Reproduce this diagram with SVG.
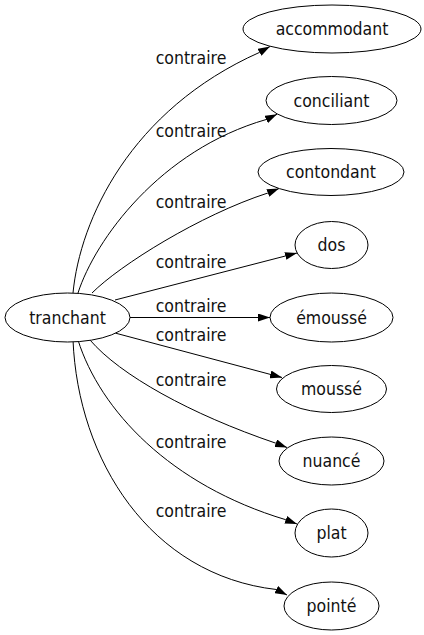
<svg xmlns="http://www.w3.org/2000/svg" width="424" height="635" viewBox="0 0 424 635">
<style>
  .node ellipse { fill: #ffffff; stroke: #000000; stroke-width: 1; }
  .node text, .lbl { font-family: "DejaVu Sans Condensed", "DejaVu Sans", sans-serif; font-stretch: condensed; font-size: 17.5px; fill: #111111; text-anchor: middle; }
  .edge { fill: none; stroke: #000000; stroke-width: 1; marker-end: url(#arr); }
</style>
<defs>
  <marker id="arr" markerUnits="userSpaceOnUse" viewBox="0 0 12 8" markerWidth="12" markerHeight="8" refX="12" refY="4" orient="auto">
    <path d="M0,0 L12,4 L0,8 z" fill="#000000"/>
  </marker>
</defs>
<rect width="424" height="635" fill="#ffffff"/>
<g id="edges">
  <path class="edge" d="M73,293 C80,220 130,110 259.5,52.4 L270,46.5"/>
  <path class="edge" d="M78,293 C95,240 160,150 266.2,119.5 L277,114.3"/>
  <path class="edge" d="M92,293 C120,265 200,215 267.8,193 L279,188.5"/>
  <path class="edge" d="M115,300 L297,253"/>
  <path class="edge" d="M130,317.5 L270,317.5"/>
  <path class="edge" d="M115,333 L282,377.5"/>
  <path class="edge" d="M90,340 C120,375 190,414 275.8,443.2 L287,447.5"/>
  <path class="edge" d="M78,340 C100,410 170,485 285.7,519.7 L297,524"/>
  <path class="edge" d="M73,340 C78,460 150,575 276.3,589.5 L287,595"/>
  <text class="lbl" x="191" y="64">contraire</text>
  <text class="lbl" x="191" y="137">contraire</text>
  <text class="lbl" x="191" y="208">contraire</text>
  <text class="lbl" x="191" y="267.5">contraire</text>
  <text class="lbl" x="191" y="312">contraire</text>
  <text class="lbl" x="191" y="340.5">contraire</text>
  <text class="lbl" x="191" y="386">contraire</text>
  <text class="lbl" x="191" y="448">contraire</text>
  <text class="lbl" x="191" y="517">contraire</text>
</g>
<g id="tranchant" class="node"><ellipse cx="67.5" cy="317.5" rx="62.5" ry="24.5"/><text x="67.5" y="324">tranchant</text></g>
<g id="accommodant" class="node"><ellipse cx="332" cy="29" rx="89" ry="24"/><text x="332" y="35">accommodant</text></g>
<g id="conciliant" class="node"><ellipse cx="331.5" cy="100.5" rx="65.5" ry="24"/><text x="331.5" y="106.5">conciliant</text></g>
<g id="contondant" class="node"><ellipse cx="331" cy="172" rx="73" ry="23.5"/><text x="331" y="178">contondant</text></g>
<g id="dos" class="node"><ellipse cx="331.5" cy="245" rx="36.5" ry="23.5"/><text x="331.5" y="251">dos</text></g>
<g id="emousse" class="node"><ellipse cx="331.5" cy="317.5" rx="61.5" ry="24.5"/><text x="331.5" y="324">émoussé</text></g>
<g id="mousse" class="node"><ellipse cx="331.5" cy="389" rx="55" ry="23.5"/><text x="331.5" y="395">moussé</text></g>
<g id="nuance" class="node"><ellipse cx="331.5" cy="461" rx="52.5" ry="24"/><text x="331.5" y="467">nuancé</text></g>
<g id="plat" class="node"><ellipse cx="331.5" cy="533" rx="36.5" ry="24"/><text x="331.5" y="539">plat</text></g>
<g id="pointe" class="node"><ellipse cx="331.5" cy="606" rx="47.5" ry="24"/><text x="331.5" y="612">pointé</text></g>
</svg>
